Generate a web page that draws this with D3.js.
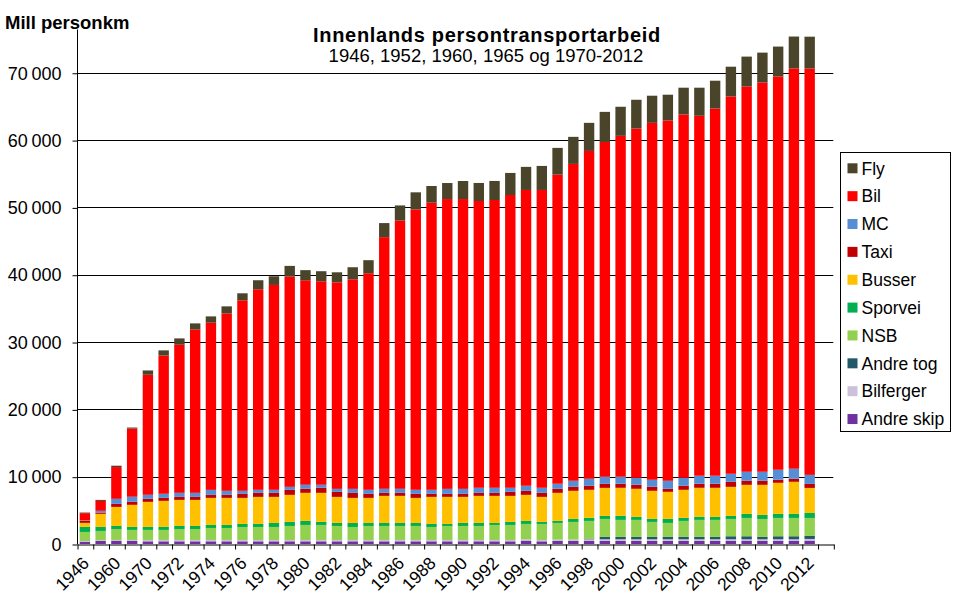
<!DOCTYPE html>
<html>
<head>
<meta charset="utf-8">
<script src="https://cdn.jsdelivr.net/npm/d3@7"></script>
<style>
  body { margin: 0; background: #fff; }
  svg text { font-family: "Liberation Sans", Arial, sans-serif; fill: #000; }
</style>
</head>
<body>
<svg id="chart" width="962" height="596"></svg>
<script>
// categories
const years = ["1946","1952","1960","1965","1970","1971","1972","1973","1974","1975","1976","1977","1978","1979",
  "1980","1981","1982","1983","1984","1985","1986","1987","1988","1989","1990","1991","1992","1993","1994","1995",
  "1996","1997","1998","1999","2000","2001","2002","2003","2004","2005","2006","2007","2008","2009","2010","2011","2012"];

// series, mill personkm
const andreSkip = [300,450,450,450, 400,400,400,400,400,400,400,400,400,400, 400,400,400,400,400,400,400,400,400,400,
  400,400,400,400,500,400, 450,450,450,450,450,450,450,450,450,450,450, 450,500,450,450,450,500];
const bilferger = [150,100,150,150, 200,200,200,200,200,200,200,200,200,200, 200,200,200,200,200,200,200,200,200,200,
  200,200,200,200,200,200, 200,200,250,250,250,250,250,250,250,250,250, 250,200,250,250,250,250];
const andreTog = [0,0,0,0, 0,0,0,0,0,0,0,0,0,0, 0,0,0,0,0,0,0,0,0,0,
  0,0,0,0,0,0, 0,0,100,350,350,350,350,350,350,350,350, 450,450,350,450,450,450];
const nsb = [1340,1390,1630,1490, 1490,1490,1630,1630,1780,1780,1930,1930,1930,2080, 2230,2230,2080,1930,2080,2080,2080,2080,1930,2080,
  2080,2080,2230,2230,2280,2380, 2480,2630,2630,2670,2530,2530,2230,2080,2380,2530,2530, 2570,2720,2670,2720,2720,2670];
const sporvei = [750,600,450,450, 450,450,450,450,450,450,450,450,600,600, 600,450,450,600,450,450,450,450,450,300,
  450,450,300,450,450,300, 300,450,450,450,600,450,450,600,450,450,450, 450,600,600,600,600,740];
const busser = [600,1940,2830,3280, 3720,3870,3870,3870,4020,4020,3870,4020,3870,4020, 4170,4320,3870,3720,3720,4020,4020,3720,4020,4020,
  3870,4020,4020,3870,3870,3720, 4170,4170,4170,4170,4170,4170,4170,4020,4170,4320,4320, 4320,4320,4470,4620,4770,3720];
const taxi = [300,200,450,450, 450,450,450,450,450,450,600,600,600,740, 600,750,740,740,600,450,450,600,450,450,
  450,450,450,600,600,600, 600,600,600,600,600,600,600,450,600,600,600, 750,600,600,450,450,600];
const mc = [70,250,750,750, 600,600,600,600,740,600,450,450,450,450, 600,450,450,600,600,600,600,600,600,740,
  740,750,750,600,750,750, 750,890,1040,1040,1040,1040,1040,1190,1190,1190,1190, 1190,1340,1340,1490,1490,1340];
const bil = [1070,1470,4720,10130, 17830,20550,22000,24280,24830,26360,28300,29790,30430,31230,
  30380,30230,30680,31130,32170,37380,39850,41650,42650,43050,43050,42600,42750,43490,43940,44240,
  45920,47070,48700,49740,50640,51880,53020,53520,53960,53470,54560,56050,57250,57840,58430,59470,60360];
const fly = [90,150,200,150, 640,750,940,890,940,1040,1040,1340,1290,1590,
  1500,1490,1490,1790,1940,2090,2240,2540,2480,2380,2680,2680,2830,3280,3430,3570,
  3970,4020,4170,4470,4320,4270,4030,3830,3980,4170,4120,4420,4420,4420,4430,4730,4730];

// stacking order, bottom first
const seriesNames = ["Andre skip","Bilferger","Andre tog","NSB","Sporvei","Busser","Taxi","MC","Bil","Fly"];
const seriesValues = [andreSkip, bilferger, andreTog, nsb, sporvei, busser, taxi, mc, bil, fly];
const seriesColors = ["#7030A0","#CCC1DA","#215968","#92D050","#00B050","#FFC000","#C00000","#558ED5","#FF0000","#4A442A"];

const yTicks = [0,10000,20000,30000,40000,50000,60000,70000];

const rows = years.map((yr, i) => {
  let r = {year: yr};
  seriesNames.forEach((s, k) => { r[s] = seriesValues[k][i]; });
  return r;
});

const svg = d3.select("#chart");
const plotLeft = 77, plotRight = 833.3, plotTop = 29, plotBottom = 544;
const step = (plotRight - plotLeft) / 48;   // one empty slot after 2012

const x = d3.scaleBand()
    .domain(years)
    .range([plotLeft, plotLeft + step * years.length])
    .paddingInner(0.34)
    .paddingOuter(0.17);

const y = d3.scaleLinear()
    .domain([0, 76500])
    .range([plotBottom, plotTop]);

const fmt = d => d3.format(",")(d).replace(/,/g, "\u2009");

// gridlines
svg.append("g")
  .selectAll("line")
  .data(yTicks.slice(1))
  .join("line")
    .attr("x1", plotLeft).attr("x2", plotRight)
    .attr("y1", d => Math.round(y(d)) + 0.5).attr("y2", d => Math.round(y(d)) + 0.5)
    .attr("stroke", "#000").attr("stroke-width", 1);

// bars
const stack = d3.stack().keys(seriesNames);
const layers = stack(rows);

svg.append("g")
  .selectAll("g")
  .data(layers)
  .join("g")
    .attr("fill", (d, i) => seriesColors[i])
  .selectAll("rect")
  .data(d => d)
  .join("rect")
    .attr("x", d => x(d.data.year))
    .attr("width", x.bandwidth())
    .attr("y", d => y(d[1]))
    .attr("height", d => y(d[0]) - y(d[1]));

// y axis
const yAxis = svg.append("g")
    .attr("transform", `translate(${plotLeft + 0.5},0.5)`)
    .call(d3.axisLeft(y).tickValues(yTicks).tickFormat(fmt).tickSize(5).tickSizeOuter(0).tickPadding(11));
yAxis.select(".domain").attr("d", `M0,${Math.round(plotBottom)}V${plotTop}`).attr("stroke", "#000");
yAxis.selectAll(".tick line").attr("stroke", "#000");
yAxis.selectAll("text").style("font-size", "18px");

// x axis: ticks between categories
const xb = d3.scaleLinear().domain([0, 48]).range([plotLeft, plotRight]);
const xAxis = svg.append("g")
    .attr("transform", `translate(0.5,${plotBottom + 0.5})`)
    .call(d3.axisBottom(xb).tickValues(d3.range(49)).tickFormat("").tickSize(5).tickSizeOuter(0));
xAxis.selectAll("line, path").attr("stroke", "#000");

// x labels, every other year, slanted
svg.append("g")
  .selectAll("text")
  .data(years.filter((d, i) => i % 2 === 0))
  .join("text")
    .attr("transform", d => `translate(${x(d) + x.bandwidth() / 2 + 1},${plotBottom + 16}) rotate(-45)`)
    .attr("text-anchor", "end")
    .attr("dy", "0.35em")
    .style("font-size", "17.5px")
    .text(d => d);

// titles
svg.append("text")
    .attr("x", 5).attr("y", 29)
    .style("font-size", "18.5px").style("font-weight", "bold")
    .text("Mill personkm");

svg.append("text")
    .attr("x", 487).attr("y", 42)
    .attr("text-anchor", "middle")
    .style("font-size", "20px").style("font-weight", "bold").style("letter-spacing", "0.7px")
    .text("Innenlands persontransportarbeid");

svg.append("text")
    .attr("x", 486).attr("y", 61.5)
    .attr("text-anchor", "middle")
    .style("font-size", "18.5px")
    .text("1946, 1952, 1960, 1965 og 1970-2012");

// legend
const legend = svg.append("g").attr("transform", "translate(840.5,152.5)");
legend.append("rect")
    .attr("width", 110).attr("height", 279)
    .attr("fill", "#fff").attr("stroke", "#000");

const legendItems = seriesNames.map((s, i) => ({name: s, color: seriesColors[i]})).reverse();
const li = legend.selectAll("g.item")
  .data(legendItems)
  .join("g")
    .attr("class", "item")
    .attr("transform", (d, i) => `translate(0,${15.8 + i * 27.86})`);
li.append("rect")
    .attr("x", 7).attr("y", -5)
    .attr("width", 10).attr("height", 10)
    .attr("fill", d => d.color);
li.append("text")
    .attr("x", 21).attr("dy", "0.36em")
    .style("font-size", "17.5px")
    .text(d => d.name);
</script>
</body>
</html>
